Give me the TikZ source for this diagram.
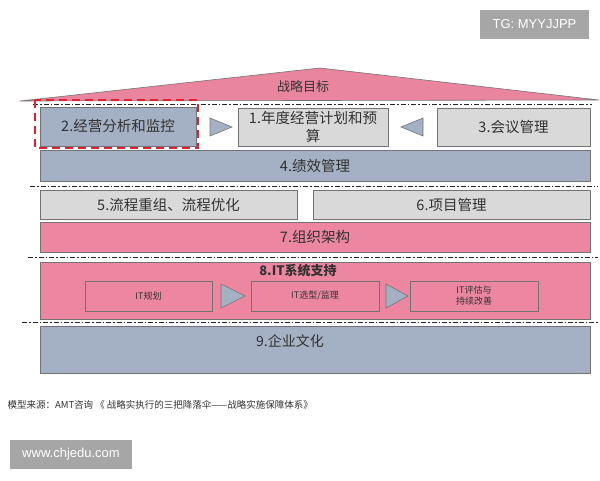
\documentclass[tikz,border=0pt]{standalone}
\usepackage{fontspec}
\setmainfont{Noto Sans CJK SC}
\newfontfamily\tagfont{Liberation Sans}
\usetikzlibrary{positioning}
\definecolor{roofpink}{RGB}{234,133,160}
\definecolor{rosefill}{RGB}{236,134,161}
\definecolor{slateblue}{RGB}{164,177,196}
\definecolor{lightgrey}{RGB}{217,217,217}
\definecolor{boxline}{RGB}{115,115,115}
\definecolor{txt}{RGB}{50,50,50}
\definecolor{markred}{RGB}{222,34,48}
\definecolor{taggrey}{RGB}{166,166,166}
\begin{document}
\begin{tikzpicture}[x=1pt,y=-1pt,
	box/.style={draw=boxline,line width=0.8pt,inner sep=0pt,text=txt,font=\fontsize{14.5}{18}\selectfont},
	greybox/.style={box,fill=lightgrey},
	bluebox/.style={box,fill=slateblue},
	pinkbox/.style={box,fill=rosefill},
	itbox/.style={box,fill=rosefill,font=\fontsize{9}{11}\selectfont,align=center,minimum width=128,minimum height=30},
	tri/.style={draw=boxline,fill=slateblue,line width=0.6pt},
	divider/.style={line width=0.9pt,black!85,dash pattern=on 5pt off 2pt on 1.5pt off 2pt},
	tag/.style={fill=taggrey,text=white,font=\tagfont\fontsize{13}{15}\selectfont,inner sep=0pt}]
	\useasboundingbox (0,0) rectangle (600,480);
	% Roof
	\draw [boxline,fill=roofpink,line width=0.6pt] (20,101) -- (320,68) -- (599,100) -- cycle;
	\node[text=txt,font=\fontsize{13}{15}\selectfont] (goal) at (303,87) {战略目标};
	\draw [divider] (33,104) -- (592,104);
	% Row 1
	\node[bluebox,minimum width=156,minimum height=39] (analysis) at (118,126.5) {2.经营分析和监控};
	\node[greybox,minimum width=150,minimum height=38,align=center] (budget) at (313,127) {1.年度经营计划和预\\算};
	\node[greybox,minimum width=153,minimum height=38] (meeting) at (513.5,127) {3.会议管理};
	\draw [tri] (210,118) -- (232,127) -- (210,136) -- cycle;
	\draw [tri] (423,118) -- (401,127) -- (423,136) -- cycle;
	\node[bluebox,minimum width=550,minimum height=31] (perf) at (315,165.5) {4.绩效管理};
	\draw [markred,line width=2.8pt,dash pattern=on 8pt off 5pt] (35,100) rectangle (198,148);
	\draw [divider] (30,186) -- (598,186);
	% Row 2
	\node[greybox,minimum width=257,minimum height=29] (process) at (168.5,204.5) {5.流程重组、流程优化};
	\node[greybox,minimum width=277,minimum height=29] (project) at (451.5,204.5) {6.项目管理};
	\node[pinkbox,minimum width=550,minimum height=30] (org) at (315,237) {7.组织架构};
	\draw [divider] (28,257) -- (598,257);
	% IT
	\node[pinkbox,minimum width=550,minimum height=57] (itsys) at (315,290.5) {};
	\node[text=txt,font=\bfseries\fontsize{13}{15}\selectfont] (ittitle) at (298,271) {8.IT系统支持};
	\node[itbox,minimum width=127] (itplan) at (148.5,296) {IT规划};
	\node[itbox] (itselect) at (315,296) {IT选型/监理};
	\node[itbox] (iteval) at (474,296) {IT评估与\\持续改善};
	\draw [tri] (221,284) -- (245,296) -- (221,308) -- cycle;
	\draw [tri] (386,284) -- (408,296) -- (386,308) -- cycle;
	\draw [divider] (22,322) -- (598,322);
	% Base
	\node[bluebox,minimum width=550,minimum height=47] (culture) at (315,349.5) {};
	\node[text=txt,font=\fontsize{14}{16}\selectfont] (culturelbl) at (290,341) {9.企业文化};
	%Labels
	\node[anchor=west,text=txt,font=\fontsize{9.5}{11}\selectfont] (source) at (4,405) {模型来源：AMT咨询 《 战略实执行的三把降落伞——战略实施保障体系》};
	\node[tag,minimum width=109,minimum height=29] (tg) at (534.5,24.5) {TG: MYYJJPP};
	\node[tag,minimum width=122,minimum height=29] (site) at (71,454.5) {www.chjedu.com};
\end{tikzpicture}
\end{document}
